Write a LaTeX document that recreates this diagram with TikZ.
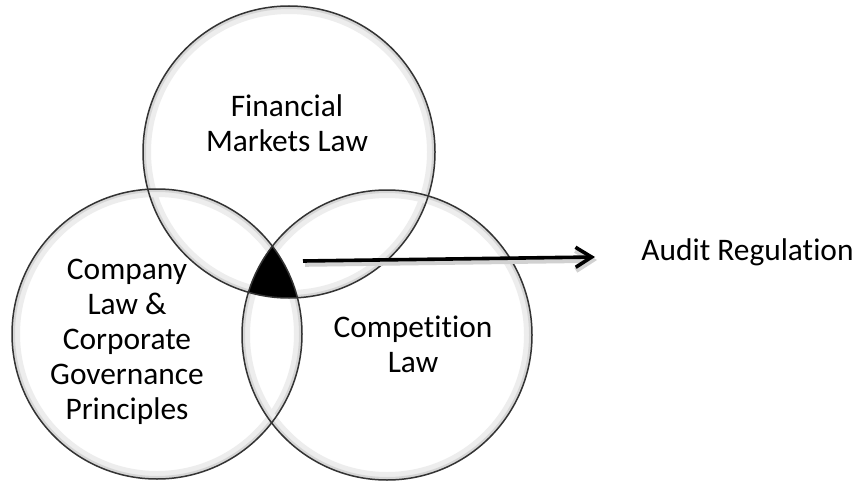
\documentclass[tikz,border=0pt]{standalone}
\usepackage{fontspec}
\setmainfont{Carlito}[Ligatures={NoCommon,NoRare}]
\usetikzlibrary{arrows.meta}
\begin{document}
\begin{tikzpicture}[x=0.5pt,y=-0.5pt,
  lbl/.style={align=center, font=\fontsize{15.7}{17.5}\selectfont, text=black, inner sep=0pt},
  rim/.style={draw=black!80, line width=0.75pt},
  glowA/.style={draw=black!7, line width=8pt},
  glowB/.style={draw=black!16, line width=3pt},
  arr/.style={line width=1.8pt, -{Straight Barb[length=8pt,width=10pt,line width=1.8pt]}},
  arrshadow/.style={black!18, line width=2.8pt, -{Straight Barb[length=8pt,width=10pt,line width=2.8pt]}}
]
\fill[white] (0,0) rectangle (861,481);
\useasboundingbox (0,0) rectangle (861,481);
\coordinate (cT) at (289,152);
\coordinate (cL) at (157,334);
\coordinate (cR) at (387,335);
% inner glow of the circles
\foreach \c/\r in {cT/73pt,cL/72.5pt,cR/72.5pt}{
  \begin{scope}
    \clip (\c) circle[radius=\r];
    \draw[glowA] (\c) circle[radius=\r];
    \draw[glowB] (\c) circle[radius=\r];
  \end{scope}
}
% triple intersection
\begin{scope}
  \clip (cT) circle[radius=73pt];
  \clip (cL) circle[radius=72.5pt];
  \fill[black] (cR) circle[radius=72.5pt];
\end{scope}
% outlines
\draw[rim] (cT) circle[radius=73pt];
\draw[rim] (cL) circle[radius=72.5pt];
\draw[rim] (cR) circle[radius=72.5pt];
% labels
\node[lbl] (fml) at (287,123) {Financial\\Markets Law};
\node[lbl] (clc) at (127,342) {Company\\Law \&\\Corporate\\Governance\\Principles};
\node[lbl] (cl) at (413,344) {Competition\\Law};
\node[lbl, anchor=west] (ar) at (641,252) {Audit Regulation};
% arrow
\coordinate (a0) at (303,261);
\coordinate (a1) at (595,257);
\coordinate (s0) at (305,264);
\coordinate (s1) at (597,260);
\draw[arrshadow] (s0) -- (s1);
\draw[arr] (a0) -- (a1);
\end{tikzpicture}
\end{document}
